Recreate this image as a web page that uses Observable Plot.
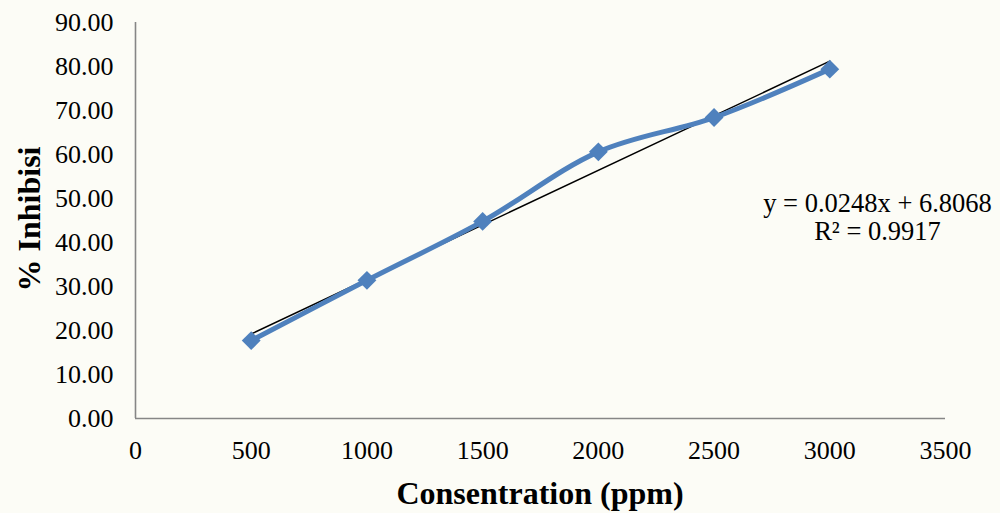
<!DOCTYPE html>
<html>
<head>
<meta charset="utf-8">
<script src="https://cdn.jsdelivr.net/npm/d3@7"></script>
<script src="https://cdn.jsdelivr.net/npm/@observablehq/plot@0.6"></script>
<style>
  html, body { margin: 0; padding: 0; background: #fcfcf6; }
  #chart { width: 1000px; height: 513px; }
  svg { font-family: "Liberation Serif", "Times New Roman", serif; }
</style>
</head>
<body>
<div id="chart"></div>
<script>
const concentrations = [500, 1000, 1500, 2000, 2500, 3000];
const inhibition = [17.7, 31.4, 44.8, 60.6, 68.4, 79.4];
const xTicks = [0, 500, 1000, 1500, 2000, 2500, 3000, 3500];
const yTicks = [0, 10, 20, 30, 40, 50, 60, 70, 80, 90];
const slope = 0.0248;
const intercept = 6.8068;
const equationLines = ["y = 0.0248x + 6.8068", "R² = 0.9917"];

const data = concentrations.map((x, i) => ({x, y: inhibition[i]}));
const trendX = [d3.min(concentrations), d3.max(concentrations)];
const trend = trendX.map(x => ({x, y: slope * x + intercept}));

const chart = Plot.plot({
  width: 1000,
  height: 513,
  marginLeft: 135,
  marginRight: 55,
  marginTop: 22,
  marginBottom: 95,
  style: {background: "transparent", fontFamily: "Liberation Serif, serif"},
  x: {domain: [0, 3500], label: null},
  y: {domain: [0, 90], label: null},
  marks: [
    Plot.axisX({ticks: xTicks, tickSize: 0, tickPadding: 22, fontSize: 26, fill: "#000", tickFormat: d => String(d), label: null}),
    Plot.axisY({ticks: yTicks, tickSize: 0, tickPadding: 22, fontSize: 26, fill: "#000", tickFormat: d => d.toFixed(2), label: null}),
    Plot.ruleX([0], {stroke: "#868686", strokeWidth: 1.6}),
    Plot.ruleY([0], {stroke: "#868686", strokeWidth: 1.6}),
    Plot.line(trend, {x: "x", y: "y", stroke: "#000", strokeWidth: 1.5}),
    Plot.line(data, {x: "x", y: "y", curve: "catmull-rom", stroke: "#4F81BD", strokeWidth: 5}),
    Plot.dot(data, {x: "x", y: "y", symbol: "diamond2", r: 8.5, fill: "#4F81BD", stroke: "none"}),
    Plot.text([equationLines[0]], {frameAnchor: "top-left", lineAnchor: "middle", dx: 877 - 135, dy: 203 - 22, text: d => d, fontSize: 26.5, fill: "#000", textAnchor: "middle"}),
    Plot.text([equationLines[1]], {frameAnchor: "top-left", lineAnchor: "middle", dx: 877 - 135, dy: 231 - 22, text: d => d, fontSize: 26.5, fill: "#000", textAnchor: "middle"})
  ]
});

const svg = d3.select(chart);
svg.append("text")
  .attr("x", 540).attr("y", 504)
  .attr("text-anchor", "middle")
  .attr("font-size", 32).attr("font-weight", "bold")
  .attr("fill", "#000")
  .text("Consentration (ppm)");
svg.append("text")
  .attr("transform", "translate(40,219) rotate(-90)")
  .attr("text-anchor", "middle")
  .attr("font-size", 32).attr("font-weight", "bold")
  .attr("fill", "#000")
  .text("% Inhibisi");

document.getElementById("chart").appendChild(chart);
</script>
</body>
</html>
